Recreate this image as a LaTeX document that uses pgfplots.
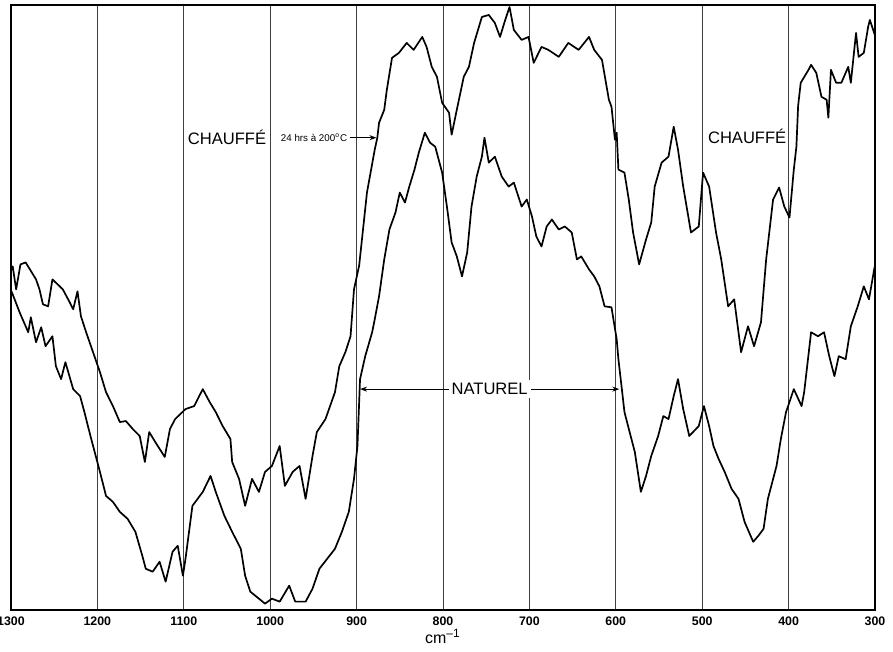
\documentclass[border=0pt]{standalone}
\usepackage{pgfplots}
\pgfplotsset{compat=1.18}
\usepackage{fontspec}
\setmainfont{Liberation Sans}
\usetikzlibrary{arrows.meta}
\begin{document}
\begin{tikzpicture}
\begin{axis}[
  scale only axis, width=433pt, height=303pt,
  x dir=reverse, xmin=300, xmax=1300, ymin=0, ymax=606,
  xtick={300,400,500,600,700,800,900,1000,1100,1200,1300},
  xticklabels={300,400,500,600,700,800,900,1000,1100,1200,1300},
  ytick=\empty, major tick length=0pt,
  xmajorgrids, grid style={black!75, line width=0.35pt},
  axis line style={line width=0.9pt},
  xticklabel style={font=\fontsize{6.2}{7}\selectfont\bfseries},
  xlabel={cm\textsuperscript{--1}},
  xlabel style={font=\fontsize{8}{9}\selectfont, yshift=5pt},
  clip=false,
]
% CHAUFFE (upper)
\addplot[black, line width=0.85pt, line join=round] coordinates {
(1300,340) (1298,344) (1294,321) (1289,346) (1283,348) (1271,331) (1267,321) (1263,306) (1257,304) (1252,331) (1240,321) (1232,308) (1228,301) (1223,319) (1219,294) (1213,278) (1205,258) (1197,238) (1190,218) (1182,204) (1174,188) (1167,189) (1159,181) (1151,174) (1145,148) (1140,178) (1133,168) (1122,153) (1116,181) (1110,191) (1098,201) (1088,204) (1078,221) (1070,208) (1063,198) (1055,184) (1046,171) (1044,148) (1036,131) (1029,104) (1021,131) (1013,118) (1006,138) (998,144) (989,164) (983,124) (974,138) (966,144) (959,111) (951,154) (946,178) (936,191) (925,218) (920,244) (913,258) (907,274) (903,321) (897,345) (888,418) (879,461) (876,473) (874,488) (868,501) (865,521) (859,553) (851,558) (842,568) (834,561) (824,574) (819,564) (813,544) (807,534) (801,508) (793,498) (790,476) (784,501) (776,534) (770,544) (764,568) (755,594) (747,596) (740,588) (734,574) (728,591) (723,604) (718,581) (709,571) (701,574) (695,548) (686,564) (678,561) (666,554) (655,568) (643,561) (631,574) (625,561) (616,551) (608,511) (605,504) (601,471) (599,478) (597,441) (590,438) (585,411) (580,378) (573,346) (565,371) (559,388) (555,424) (547,448) (539,454) (533,484) (528,461) (522,424) (513,378) (504,384) (499,438) (492,424) (484,378) (478,351) (470,304) (463,311) (455,258) (447,284) (440,264) (432,288) (426,351) (418,411) (411,423) (405,404) (399,393) (394,441) (391,464) (389,505) (386,528) (377,541) (374,546) (368,538) (362,514) (356,511) (354,493) (351,541) (345,528) (339,528) (331,544) (328,528) (322,578) (319,554) (313,558) (308,584) (306,591) (301,578) (300,575)
};
% NATUREL (lower)
\addplot[black, line width=0.85pt, line join=round] coordinates {
(1300,320) (1298,316) (1290,298) (1280,278) (1277,293) (1271,268) (1265,283) (1260,264) (1252,274) (1248,244) (1242,231) (1237,248) (1228,221) (1220,214) (1215,198) (1208,174) (1197,138) (1190,114) (1182,108) (1174,98) (1165,91) (1156,78) (1148,54) (1144,41) (1136,38) (1128,48) (1121,28) (1113,58) (1107,64) (1101,34) (1098,51) (1090,104) (1078,118) (1069,134) (1063,118) (1053,94) (1044,78) (1034,61) (1029,34) (1023,18) (1013,11) (1006,6) (998,11) (989,8) (978,24) (971,8) (959,8) (951,21) (943,41) (934,51) (925,61) (917,78) (909,98) (903,131) (899,164) (896,231) (890,254) (882,278) (879,291) (874,314) (868,351) (862,381) (855,398) (850,418) (844,408) (839,424) (833,441) (828,458) (821,478) (815,468) (809,464) (801,438) (795,401) (790,368) (784,354) (778,334) (772,358) (767,404) (761,434) (755,454) (752,473) (747,448) (740,454) (732,434) (724,424) (718,428) (709,404) (703,411) (697,394) (692,374) (686,364) (680,384) (674,391) (666,381) (659,384) (651,378) (645,351) (640,354) (631,341) (625,334) (619,324) (613,304) (605,303) (599,271) (597,251) (593,221) (590,198) (584,178) (578,158) (571,118) (565,134) (559,154) (551,174) (545,194) (539,191) (533,214) (528,231) (522,201) (515,174) (504,184) (498,204) (492,184) (487,164) (481,151) (474,138) (466,121) (458,111) (451,88) (441,68) (435,74) (429,81) (424,111) (414,144) (409,171) (403,198) (399,208) (394,221) (385,204) (382,218) (374,278) (366,274) (359,278) (353,254) (347,234) (342,254) (334,251) (328,284) (320,304) (313,324) (307,311) (301,341) (300,345)
};
\node[font=\fontsize{8.3}{10}\selectfont] at (axis cs:1050,473) {CHAUFFÉ};
\node[font=\fontsize{8.3}{10}\selectfont] at (axis cs:448,474) {CHAUFFÉ};
\draw[line width=0.5pt, -{Stealth[length=3.5pt,width=2.5pt]}] (axis cs:908,473) -- (axis cs:877,473)
  node[pos=0, anchor=east, inner sep=1pt, font=\fontsize{4.9}{6}\selectfont] {24 hrs à 200\textsuperscript{o}C};
\draw[line width=0.5pt, {Stealth[length=3.5pt,width=2.5pt]}-{Stealth[length=3.5pt,width=2.5pt]}] (axis cs:896,221) -- (axis cs:596,221)
  node[midway, fill=white, inner sep=1.5pt, font=\fontsize{8.3}{10}\selectfont] {NATUREL};
\end{axis}
\pgfresetboundingbox
\path ([shift={(-5.5pt,-21pt)}]current axis.south west) rectangle ([shift={(9pt,2.5pt)}]current axis.north east);
\end{tikzpicture}
\end{document}
